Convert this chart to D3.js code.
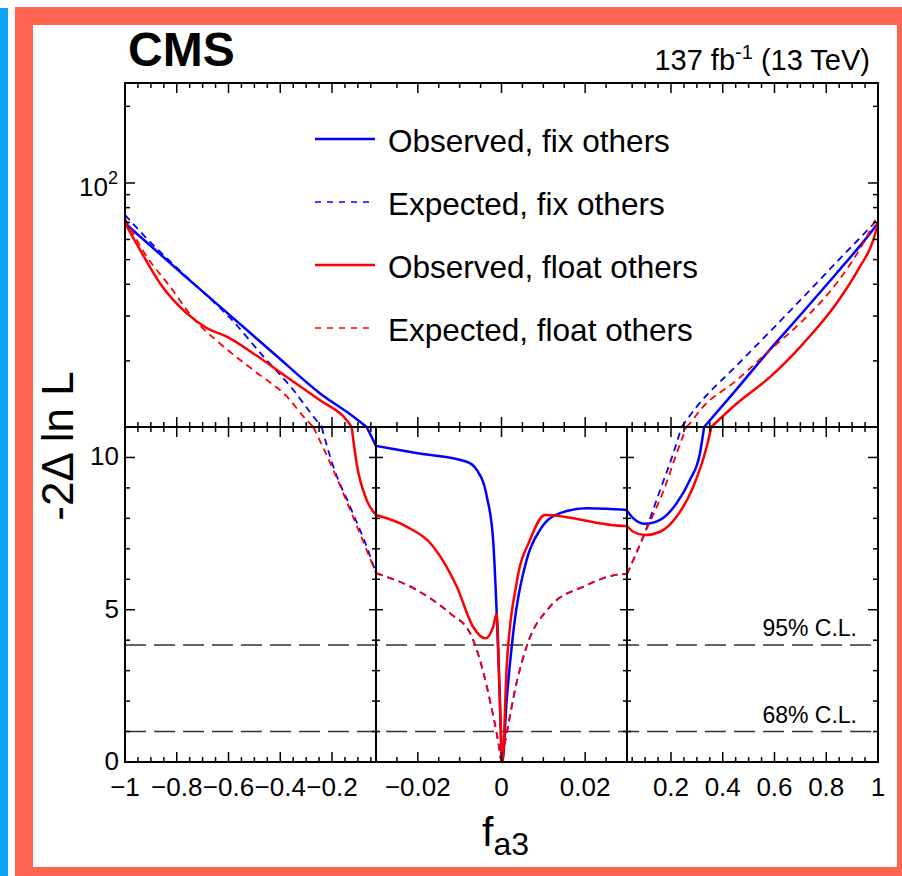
<!DOCTYPE html>
<html>
<head>
<meta charset="utf-8">
<script src="https://cdn.jsdelivr.net/npm/d3@7"></script>
<style>
  body { margin: 0; background: #fff; }
  text { font-family: "Liberation Sans", Arial, Helvetica, sans-serif; }
</style>
</head>
<body>
<div class="holder"></div>
<script>
// -2 Delta ln L vs f_a3 as [f_a3, value]
var obsFix = [[-1,69.5],[-0.762,42.5],[-0.594,30.2],[-0.414,20.9],[-0.246,14.9],[-0.118,12.1],[-0.066,11.0],
  [-0.03,10.38],[-0.02,10.14],[-0.0083,9.86],[-0.0059,9.59],[-0.0035,8.71],[-0.002,7.29],[-0.00115,4.89],
  [-0.0005,2.5],[0.0002,0],[0.00124,2.04],[0.0028,4.24],[0.006,6.63],[0.0092,7.62],[0.014,8.17],[0.0204,8.33],
  [0.0295,8.28],[0.03,8.25],[0.0545,8.0],[0.1,7.82],[0.158,7.95],[0.222,8.5],[0.273,9.26],[0.312,10.14],
  [0.328,11],[0.454,15.5],[0.583,22.2],[0.711,31.2],[0.84,44.2],[0.943,58.7],[1,69.5]];

var expFix = [[-1,74.9],[-0.891,57],[-0.8,46.5],[-0.7,37.4],[-0.594,29.5],[-0.465,20.8],[-0.35,15.4],[-0.272,12.1],
  [-0.24,11],[-0.195,9.7],[-0.13,8.38],[-0.066,7.07],[-0.03,6.2],[-0.0203,5.65],[-0.0123,4.88],[-0.0075,4.23],
  [-0.0047,3.13],[-0.0028,2.04],[-0.00115,0.94],[-0.0005,0.42],[0,0],[0.0005,0.42],[0.00124,0.94],[0.0036,2.6],
  [0.006,3.79],[0.0116,5.1],[0.0196,5.76],[0.0295,6.17],[0.03,6.17],[0.093,7.4],[0.158,8.93],[0.209,10.14],
  [0.241,11],[0.299,13.2],[0.454,19.2],[0.583,26.1],[0.711,35.6],[0.84,48.9],[0.969,66.8],[1,72]];

var obsFloat = [[-1,69.5],[-0.942,54.6],[-0.865,40.4],[-0.762,30.8],[-0.684,26.9],[-0.607,24.9],[-0.504,21.4],
  [-0.375,17.3],[-0.246,14.0],[-0.143,11.7],[-0.124,11.0],[-0.105,9.81],[-0.066,8.6],[-0.03,8.11],[-0.0227,7.73],
  [-0.0163,7.07],[-0.0107,5.76],[-0.0068,4.44],[-0.0039,4.06],[-0.002,4.44],[-0.00115,4.88],[-0.0004,2.04],
  [0.0002,0],[0.00124,3.13],[0.0036,5.87],[0.0068,7.29],[0.0104,8.11],[0.0295,7.75],[0.03,7.75],[0.0545,7.56],
  [0.1,7.45],[0.158,7.56],[0.222,8.06],[0.286,9.04],[0.338,10.35],[0.356,11],[0.454,13.6],[0.583,17.3],
  [0.711,23.4],[0.84,33.7],[0.93,46.9],[0.982,59.7],[1,69.5]];

var expFloat = [[-1,72.6],[-0.916,51.4],[-0.826,39.2],[-0.736,29.4],[-0.633,23.4],[-0.504,18.4],[-0.375,14.5],
  [-0.298,11.7],[-0.272,11],[-0.195,9.59],[-0.13,8.28],[-0.066,6.96],[-0.03,6.2],[-0.0203,5.65],[-0.0123,4.88],
  [-0.0075,4.23],[-0.0047,3.13],[-0.0028,2.04],[-0.00115,0.94],[-0.0005,0.42],[0,0],[0.0005,0.42],[0.00124,0.94],
  [0.0036,2.6],[0.006,3.79],[0.0116,5.1],[0.0196,5.76],[0.0295,6.17],[0.03,6.17],[0.093,7.4],[0.177,9.04],
  [0.222,10.14],[0.26,11],[0.2735,11.37],[0.312,12.8],[0.454,16.8],[0.583,22.1],[0.711,28.9],[0.84,40.4],
  [0.943,58],[1,74.9]];

var xMajor = [-1, -0.8, -0.6, -0.4, -0.2, -0.02, 0, 0.02, 0.2, 0.4, 0.6, 0.8, 1];
var xLabels = ["\u22121", "\u22120.8", "\u22120.6", "\u22120.4", "\u22120.2", "\u22120.02", "0", "0.02", "0.2", "0.4", "0.6", "0.8", "1"];
var yLinMajor = [0, 5, 10];
var yLinLabels = ["0", "5", "10"];
var yLogMinor = [20, 30, 40, 50, 60, 70, 80, 90, 200];
var yLogMajor = [100];
var clLevels = [1, 3.84];
var clLabels = ["68% C.L.", "95% C.L."];

var series = [
  { name: "Observed, fix others", data: obsFix, color: "#0000ff", dash: null },
  { name: "Expected, fix others", data: expFix, color: "#0000ff", dash: "7,5" },
  { name: "Observed, float others", data: obsFloat, color: "#ff0000", dash: null },
  { name: "Expected, float others", data: expFloat, color: "#ff0000", dash: "7,5" }
];

var width = 902, height = 876;
var pLeft = 125, pRight = 878, pTop = 83, pBottom = 762, pSplit = 427;

// three linear pieces on x, linear then log on y
var x = d3.scaleLinear().domain([-1, -0.03, 0.03, 1]).range([pLeft, 376, 627, pRight]);
var yLin = d3.scaleLinear().domain([0, 11]).range([pBottom, pSplit]);
var yLog = d3.scaleLog().domain([11, 247]).range([pSplit, pTop]);
function y(v) { return v <= 11 ? yLin(v) : yLog(v); }

var svg = d3.select(".holder").append("svg")
    .attr("width", width)
    .attr("height", height);

// frame of the picture
svg.append("rect").attr("x", 0).attr("y", 8).attr("width", 8).attr("height", height).style("fill", "#0ca4f8");
svg.append("rect").attr("x", 15).attr("y", 7).attr("width", width).attr("height", height).style("fill", "#ff6450");
svg.append("rect").attr("x", 33).attr("y", 25).attr("width", 864).attr("height", 842).style("fill", "#fff");

// confidence level lines
clLevels.forEach(function(c, i) {
    svg.append("line")
        .attr("x1", pLeft).attr("x2", pRight)
        .attr("y1", y(c)).attr("y2", y(c))
        .style("stroke", "#333").style("stroke-width", 1.5)
        .style("stroke-dasharray", "21,8");
    svg.append("text")
        .attr("x", 857).attr("y", y(c) - 9)
        .attr("text-anchor", "end")
        .style("font-size", "23px")
        .text(clLabels[i]);
});

// curves: smooth inside each pad, broken where the axes change
var line = d3.line()
    .x(function(d) { return x(d[0]); })
    .y(function(d) { return y(d[1]); })
    .curve(d3.curveMonotoneX);

function pieces(data) {
    var out = [], cur = [];
    data.forEach(function(d, i) {
        cur.push(d);
        var brk = d[1] === 11 || Math.abs(Math.abs(d[0]) - 0.03) < 1e-9;
        if (brk && i > 0 && i < data.length - 1) {
            out.push(cur);
            cur = [d];
        }
    });
    out.push(cur);
    return out;
}

series.forEach(function(s) {
    var d = pieces(s.data).map(function(p) { return line(p); }).join("");
    svg.append("path")
        .attr("d", d)
        .style("fill", "none")
        .style("stroke", s.color)
        .style("stroke-width", s.dash ? 1.8 : 2.5)
        .style("stroke-dasharray", s.dash);
});

// axes lines
var ax = svg.append("g").style("stroke", "#000").style("fill", "none");
ax.append("rect").attr("x", pLeft).attr("y", pTop).attr("width", pRight - pLeft).attr("height", pBottom - pTop)
    .style("stroke-width", 2);
ax.append("line").attr("x1", pLeft).attr("x2", pRight).attr("y1", pSplit).attr("y2", pSplit).style("stroke-width", 2);
[x(-0.03), x(0.03)].forEach(function(px) {
    ax.append("line").attr("x1", px).attr("x2", px).attr("y1", pSplit).attr("y2", pBottom).style("stroke-width", 2);
});

function tick(x1, y1, x2, y2) {
    ax.append("line").attr("x1", x1).attr("y1", y1).attr("x2", x2).attr("y2", y2).style("stroke-width", 1.5);
}

// x ticks
var xMinor = d3.range(-0.95, -0.04, 0.05)
    .concat(d3.range(-0.025, 0.026, 0.005))
    .concat(d3.range(0.05, 0.96, 0.05))
    .filter(function(v) { return !xMajor.some(function(m) { return Math.abs(m - v) < 1e-6; }); });

function xTicks(vals, len) {
    vals.forEach(function(v) {
        var px = x(v);
        tick(px, pBottom, px, pBottom - len);
        tick(px, pTop, px, pTop + len);
        tick(px, pSplit - len, px, pSplit + len);
    });
}
xTicks(xMajor, 10);
xTicks(xMinor, 5);

// y ticks
function yTicks(pys, len, dlen) {
    pys.forEach(function(py) {
        tick(pLeft, py, pLeft + len, py);
        tick(pRight, py, pRight - len, py);
        if (dlen) {
            [x(-0.03), x(0.03)].forEach(function(px) { tick(px - dlen, py, px + dlen, py); });
        }
    });
}
var yLinMinor = d3.range(1, 11).filter(function(v) { return yLinMajor.indexOf(v) < 0; });
yTicks(yLinMajor.map(yLin), 10, 7);
yTicks(yLinMinor.map(yLin), 5, 4);
yTicks(yLogMajor.map(yLog), 10, 0);
yTicks(yLogMinor.map(yLog), 5, 0);

// tick labels
svg.selectAll(".xlab").data(xMajor).enter().append("text")
    .attr("x", function(d) { return x(d); })
    .attr("y", 796)
    .attr("text-anchor", "middle")
    .style("font-size", "26px")
    .text(function(d, i) { return xLabels[i]; });

svg.selectAll(".ylab").data(yLinMajor).enter().append("text")
    .attr("x", 119)
    .attr("y", function(d) { return yLin(d) + 8; })
    .attr("text-anchor", "end")
    .style("font-size", "26px")
    .text(function(d, i) { return yLinLabels[i]; });

var t100 = svg.append("text")
    .attr("x", 118).attr("y", yLog(100) + 13)
    .attr("text-anchor", "end")
    .style("font-size", "26px");
t100.append("tspan").text("10");
t100.append("tspan").attr("dy", -12).style("font-size", "18px").text("2");

// axis titles
var xt = svg.append("text").attr("x", 482).attr("y", 846).style("font-size", "41px");
xt.append("tspan").text("f");
xt.append("tspan").attr("dy", 9).style("font-size", "32px").text("a3");

svg.append("text")
    .attr("transform", "translate(73,446) rotate(-90)")
    .attr("text-anchor", "middle")
    .style("font-size", "44px")
    .text("-2\u0394 ln L");

svg.append("text")
    .attr("x", 128).attr("y", 66)
    .style("font-size", "48px").style("font-weight", "bold")
    .text("CMS");

var lumi = svg.append("text")
    .attr("x", 870).attr("y", 70)
    .attr("text-anchor", "end")
    .style("font-size", "29px");
lumi.append("tspan").text("137 fb");
lumi.append("tspan").attr("dy", -11).style("font-size", "20px").text("-1");
lumi.append("tspan").attr("dy", 11).text(" (13 TeV)");

// legend
var legendY = [139, 202, 265, 328];
series.forEach(function(s, i) {
    svg.append("line")
        .attr("x1", 315).attr("x2", 375)
        .attr("y1", legendY[i]).attr("y2", legendY[i])
        .style("stroke", s.color)
        .style("stroke-width", s.dash ? 1.4 : 2.4)
        .style("stroke-dasharray", s.dash ? "6,6" : null);
    svg.append("text")
        .attr("x", 388).attr("y", legendY[i] + 13)
        .style("font-size", "31.5px")
        .text(s.name);
});
</script>
</body>
</html>
